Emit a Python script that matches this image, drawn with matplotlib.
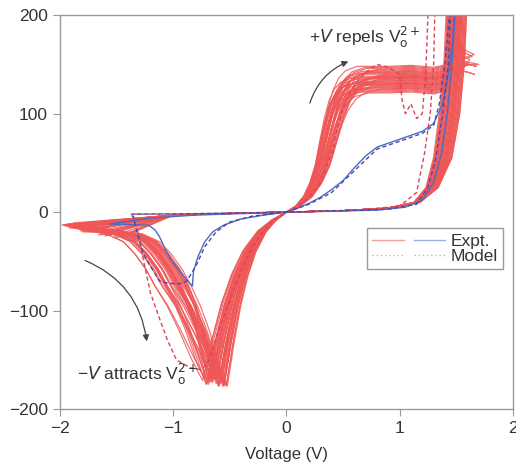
import numpy as np
import matplotlib
matplotlib.use("Agg")
import matplotlib.pyplot as plt
from matplotlib.lines import Line2D
from matplotlib.legend_handler import HandlerTuple

plt.rcParams["font.family"] = ["Liberation Sans Narrow", "Liberation Sans", "DejaVu Sans"]
plt.rcParams["mathtext.fontset"] = "custom"
plt.rcParams["mathtext.rm"] = "Liberation Sans Narrow"
plt.rcParams["mathtext.it"] = "Liberation Sans Narrow:italic"

# ---------- experimental cycles: base loop shape ----------
# SET branch (0 V -> plateau), current normalised to a 135 uA plateau
set_v = [0.0, 0.1, 0.19, 0.26, 0.32, 0.37, 0.42, 0.47, 0.53, 0.6, 0.72]
set_i = [0, 6, 16, 30, 48, 72, 95, 112, 124, 131, 135]
plat_v = [0.9, 1.1, 1.3, 1.42]
plat_d = [0, 1, -1, 2]
# RESET branch coming down from compliance
reset_v = [1.5, 1.49, 1.47, 1.43, 1.37, 1.28, 1.15, 0.9, 0.5, 0.0]
reset_i = [230, 200, 150, 100, 55, 25, 10, 4, 1.5, 0]
reset_w = [1, 1, 1, 1, 0.9, 0.6, 0.3, 0.1, 0, 0]
# negative side: right arm of the dip (normalised to -0.58 V, -175 uA)
neg_v = [0.0, -0.1, -0.2, -0.3, -0.38, -0.45, -0.52, -0.58]
neg_i = [0, -8, -20, -40, -65, -95, -135, -175]
# left arm, offsets from the dip voltage
arm_off = [0, -0.04, -0.1, -0.17, -0.24, -0.32, -0.42, -0.52, -0.67]
arm_i = [None, -150, -120, -95, -75, -58, -42, -30, -22]
arm_w = [0, 0.3, 0.6, 0.8, 1, 1, 1, 1, 1]

# ---------- per-cycle variation ----------
set_k = [0.78, 0.85, 0.92, 1.0, 1.05, 1.12, 0.88, 0.95, 1.18, 1.02, 0.81, 0.9, 0.97, 1.08,
         1.22, 0.86, 0.93, 1.0, 1.1, 0.83, 0.99, 1.04, 1.15, 0.89, 0.96, 1.06, 0.8, 0.91,
         1.13, 1.01, 0.87, 0.94, 1.09, 1.2, 0.84, 0.98, 1.03, 1.16, 0.92, 1.07]
plat = [125, 132, 140, 136, 128, 145, 122, 138, 134, 142, 130, 126, 147, 133, 139, 124,
        143, 129, 137, 131, 146, 127, 135, 141, 123, 144, 136, 130, 138, 121, 148, 133,
        127, 140, 135, 129, 142, 125, 137, 131]
reset_dv = [0.02, -0.05, 0.08, 0.0, -0.03, 0.05, -0.07, 0.1, 0.03, -0.01, 0.06, -0.04,
            0.01, 0.09, -0.06, 0.04, -0.02, 0.07, 0.0, -0.08, 0.05, 0.02, -0.03, 0.08,
            -0.05, 0.03, 0.06, -0.01, 0.1, -0.04, 0.01, 0.07, -0.06, 0.04, -0.02, 0.09,
            0.0, -0.07, 0.05, 0.03]
dip_v = [-0.55, -0.6, -0.66, -0.52, -0.7, -0.58, -0.63, -0.74, -0.56, -0.61, -0.68, -0.53,
         -0.65, -0.59, -0.72, -0.57, -0.62, -0.54, -0.69, -0.6, -0.64, -0.56, -0.71, -0.58,
         -0.67, -0.55, -0.63, -0.6, -0.73, -0.57, -0.65, -0.53, -0.61, -0.69, -0.58, -0.66,
         -0.55, -0.62, -0.7, -0.59]
dip_i = [-172, -175, -168, -176, -170, -174, -166, -171, -177, -169, -173, -175, -167,
         -176, -170, -172, -174, -168, -171, -177, -169, -173, -175, -166, -172, -176,
         -170, -174, -168, -171, -173, -177, -169, -175, -167, -172, -176, -170, -174, -171]
arm_dv = [-0.05, -0.15, 0.02, -0.22, -0.08, -0.12, 0.0, -0.18, -0.1, -0.25, -0.03, -0.14,
          -0.2, -0.06, 0.04, -0.16, -0.09, -0.23, -0.01, -0.13, -0.19, -0.07, -0.11, -0.24,
          -0.04, -0.17, -0.02, -0.21, -0.1, -0.14, 0.03, -0.18, -0.08, -0.12, -0.2, -0.05,
          -0.15, -0.09, -0.22, -0.06]
tip_v = [-1.95, -1.7, -1.85, -1.55, -1.9, -1.8, -1.45, -1.98, -1.75, -1.6, -1.88, -1.92,
         -1.5, -1.82, -1.65, -1.96, -1.78, -1.4, -1.86, -1.72, -1.93, -1.58, -1.84, -1.68,
         -1.97, -1.8, -1.52, -1.9, -1.76, -1.62, -1.94, -1.83, -1.48, -1.88, -1.74, -1.95,
         -1.66, -1.87, -1.79, -1.56]
tip_i = [-14, -18, -12, -22, -15, -20, -25, -13, -17, -24, -11, -16, -26, -19, -21, -13,
         -15, -23, -12, -18, -14, -22, -17, -20, -13, -16, -24, -15, -19, -21, -12, -17,
         -25, -14, -18, -13, -23, -16, -15, -20]
# noisy cycles near compliance
spike_cycle = [3, 9, 15, 22, 30, 36]
spike_v = [1.62, 1.7, 1.58, 1.66, 1.55, 1.68]
spike_i = [165, 160, 172, 150, 180, 158]

# ---------- single measured cycle and model ----------
blue_v = [0, 0.1, 0.2, 0.3, 0.4, 0.5, 0.6, 0.7, 0.8, 0.9, 1.0, 1.1, 1.2, 1.3, 1.38, 1.43,
          1.47, 1.49, 1.49, 1.46, 1.42, 1.37, 1.3, 1.2, 1.05, 0.8, 0.4, 0,
          -0.2, -0.4, -0.55, -0.65, -0.72, -0.78, -0.82, -0.83, -0.87, -0.94, -1.02, -1.08,
          -1.12, -1.16, -1.22, -1.3, -1.56, -1.2, -0.8, 0]
blue_i = [0, 4, 9, 15, 23, 32, 45, 57, 66, 70, 74, 78, 82, 90, 110, 140, 175, 230, 200, 150,
          100, 60, 30, 12, 5, 2, 1, 0,
          -3, -7, -13, -20, -30, -45, -60, -75, -70, -60, -48, -35, -25, -18, -13, -13, -12,
          -6, -3, 0]

model_r_v = [0, 0.1, 0.2, 0.3, 0.4, 0.45, 0.5, 0.55, 0.62, 0.7, 0.8, 0.9, 1.0, 1.02, 1.05,
             1.1, 1.15, 1.2, 1.23, 1.25, 1.27, 1.31, 1.3, 1.27, 1.22, 1.15, 1.0, 0.5, 0,
             -0.15, -0.3, -0.4, -0.5, -0.6, -0.68, -0.75, -0.85, -0.97, -1.05, -1.12, -1.2,
             -1.26, -1.3, -1.35, -1.35, -1.0, -0.5, 0]
model_r_i = [0, 6, 15, 30, 60, 85, 105, 120, 132, 142, 150, 147, 140, 115, 100, 110, 95, 100,
             140, 200, 230, 200, 150, 100, 60, 20, 6, 1, 0,
             -12, -35, -60, -90, -120, -150, -160, -158, -150, -130, -108, -82, -50, -25,
             -5, -2, -2, -1, 0]
model_b_v = [0, 0.2, 0.4, 0.6, 0.8, 1.0, 1.2, 1.3, 1.35, 1.4, 1.44, 1.46, 1.43, 1.38, 1.32,
             1.25, 1.15, 0.9, 0,
             -0.3, -0.5, -0.62, -0.72, -0.8, -0.88, -0.95, -1.05, -1.12, -1.2, -1.27, -1.32,
             -1.35, -1.38, -0.8, 0]
model_b_i = [0, 8, 20, 42, 64, 72, 80, 88, 110, 150, 200, 230, 150, 100, 55, 25, 8, 3, 0,
             -4, -10, -20, -35, -55, -70, -73, -72, -70, -55, -40, -20, -5, -2, -1.5, 0]

red = "#ef5656"
blue = "#4a6cc4"


def red_cycle(k):
    s = plat[k] / 135.0
    v = [x * set_k[k] for x in set_v] + plat_v
    i = [y * s for y in set_i] + [plat[k] + d for d in plat_d]
    if k in spike_cycle:
        j = spike_cycle.index(k)
        v += [spike_v[j] - 0.08, spike_v[j], 1.5, spike_v[j] - 0.04, 1.47]
        i += [plat[k] + 8, spike_i[j] - 10, spike_i[j] - 5, spike_i[j], spike_i[j] + 10]
    v += [1.46 + 0.5 * reset_dv[k]]
    i += [175]
    v += [x + reset_dv[k] * w for x, w in zip(reset_v, reset_w)]
    i += reset_i
    sv = dip_v[k] / -0.58
    si = dip_i[k] / -175.0
    v += [x * sv for x in neg_v[1:]]
    i += [y * si for y in neg_i[1:]]
    for off, y, w in zip(arm_off[1:], arm_i[1:], arm_w[1:]):
        v.append(dip_v[k] + off + arm_dv[k] * w)
        i.append(y)
    v += [tip_v[k], -1.0, -0.4, 0.0]
    i += [tip_i[k], -3, -1, 0]
    return v, i


fig = plt.figure(figsize=(5.16, 4.73), dpi=100)
ax = fig.add_axes([0.116, 0.135, 0.878, 0.833])

for k in range(len(set_k)):
    v, i = red_cycle(k)
    ax.plot(v, i, color=red, lw=0.85, alpha=0.85)

ax.plot(blue_v, blue_i, color=blue, lw=1.0)
ax.plot(model_r_v, model_r_i, color="#d8455a", lw=1.0, ls=(0, (3, 2)))
ax.plot(model_b_v, model_b_i, color="#4a4aa8", lw=1.0, ls=(0, (3, 2)))

ax.set_xlim(-2, 2)
ax.set_ylim(-200, 200)
ax.set_xticks([-2, -1, 0, 1, 2])
ax.set_yticks([-200, -100, 0, 100, 200])
ax.set_xlabel("Voltage (V)", fontsize=12, color="#333333", labelpad=8)
for sp in ax.spines.values():
    sp.set_color("#9a9a9a")
    sp.set_linewidth(1.0)
ax.tick_params(direction="out", length=5, color="#9a9a9a", labelsize=12.5,
               labelcolor="#333333")

# annotations
ax.text(0.2, 172, r"+$V$ repels V$_{\rm o}^{2+}$", fontsize=12.5, color="#333333")
ax.annotate("", xy=(0.57, 154), xytext=(0.2, 108),
            arrowprops=dict(arrowstyle="-|>", color="#444444", lw=0.9,
                            connectionstyle="arc3,rad=-0.25", mutation_scale=9))
ax.text(-1.85, -170, "\u2212$V$ attracts V$_{\\rm o}^{2+}$", fontsize=12.5, color="#333333")
ax.annotate("", xy=(-1.23, -134), xytext=(-1.8, -48),
            arrowprops=dict(arrowstyle="-|>", color="#444444", lw=0.9,
                            connectionstyle="arc3,rad=-0.3", mutation_scale=9))

# legend
h_exp = (Line2D([], [], color="#f4a0a0", lw=1.0), Line2D([], [], color="#9fb0e0", lw=1.0))
h_mod = (Line2D([], [], color="#f4a0a0", lw=1.0, ls=(0, (1, 2))),
         Line2D([], [], color="#b0b0d8", lw=1.0, ls=(0, (1, 2))))
leg = ax.legend([h_exp, h_mod], ["Expt.", "Model"], loc="upper right",
                bbox_to_anchor=(0.978, 0.459), borderaxespad=0,
                handler_map={tuple: HandlerTuple(ndivide=None, pad=0.6)},
                handlelength=4.2, handletextpad=0.3, fontsize=12.5, fancybox=False,
                framealpha=1, edgecolor="#9a9a9a", labelspacing=0.0, borderpad=0.3)
for t in leg.get_texts():
    t.set_color("#333333")

fig.savefig("out.png", dpi=100)
